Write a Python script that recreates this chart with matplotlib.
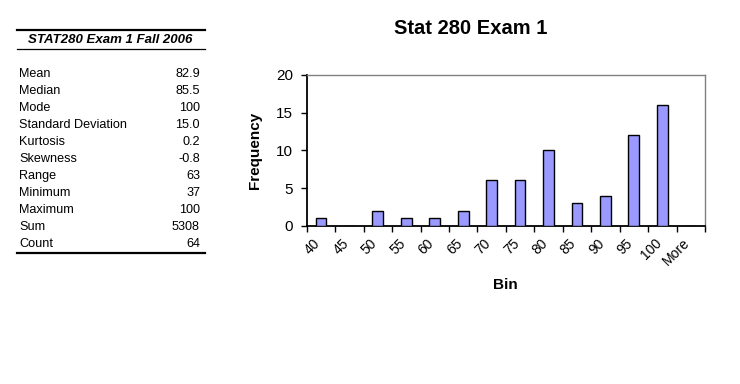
import numpy as np
import matplotlib.pyplot as plt

plt.rcParams['font.family'] = ['Liberation Sans', 'DejaVu Sans']

# histogram data
bins = ['40', '45', '50', '55', '60', '65', '70', '75', '80', '85', '90', '95', '100', 'More']
freq = [1, 0, 2, 1, 1, 2, 6, 6, 10, 3, 4, 12, 16, 0]

# summary table
stat_names = ['Mean', 'Median', 'Mode', 'Standard Deviation', 'Kurtosis', 'Skewness',
              'Range', 'Minimum', 'Maximum', 'Sum', 'Count']
stat_values = ['82.9', '85.5', '100', '15.0', '0.2', '-0.8', '63', '37', '100', '5308', '64']
table_title = 'STAT280 Exam 1 Fall 2006'

W, H = 740, 384
fig = plt.figure(figsize=(W / 100, H / 100), dpi=100)

# chart
ax = fig.add_axes([306.7 / W, 1 - 225.7 / H, (705 - 306.7) / W, (225.7 - 75) / H])
x = np.arange(len(bins))
ax.bar(x + 0.5, freq, width=0.38, color='#9999ff', edgecolor='black', linewidth=1.0, zorder=3)
ax.set_xlim(0, len(bins))
ax.set_ylim(0, 20)
ax.set_yticks([0, 5, 10, 15, 20])
ax.set_xticks(np.arange(len(bins) + 1))
ax.set_xticklabels([])
ax.tick_params(axis='both', direction='out', length=4, width=1, color='black')
ax.tick_params(axis='y', pad=6, labelsize=11)
for i, b in enumerate(bins):
    ax.text(i + 0.22, -1.4, b, rotation=45, ha='right', va='top', fontsize=10,
            rotation_mode='anchor')
for s in ['top', 'right']:
    ax.spines[s].set_color('#808080')
    ax.spines[s].set_linestyle((0, (1, 1)))
    ax.spines[s].set_linewidth(1)
for s in ['left', 'bottom']:
    ax.spines[s].set_linewidth(1.3)
ax.set_ylabel('Frequency', fontsize=11, fontweight='bold', labelpad=10)
fig.text(505 / W, 1 - 285 / H, 'Bin', fontsize=11, fontweight='bold', ha='center', va='center')
fig.text(471 / W, 1 - 28 / H, 'Stat 280 Exam 1', fontsize=14.5, fontweight='bold',
         ha='center', va='center')

# table on the left
fig.text(110 / W, 1 - 40 / H, table_title, fontsize=9.5, fontweight='bold', style='italic',
         ha='center', va='center')
fig.add_artist(plt.Line2D([17 / W, 205 / W], [1 - 30 / H] * 2, color='black', lw=1.6))
fig.add_artist(plt.Line2D([17 / W, 205 / W], [1 - 48.5 / H] * 2, color='black', lw=0.9))
fig.add_artist(plt.Line2D([17 / W, 205 / W], [1 - 253 / H] * 2, color='black', lw=1.6))
for i, (n, v) in enumerate(zip(stat_names, stat_values)):
    y = 1 - (74 + i * 17) / H
    fig.text(19 / W, y, n, fontsize=9.1, ha='left', va='center')
    fig.text(200 / W, y, v, fontsize=9.1, ha='right', va='center')

fig.savefig('out.png', dpi=100, facecolor='white')
